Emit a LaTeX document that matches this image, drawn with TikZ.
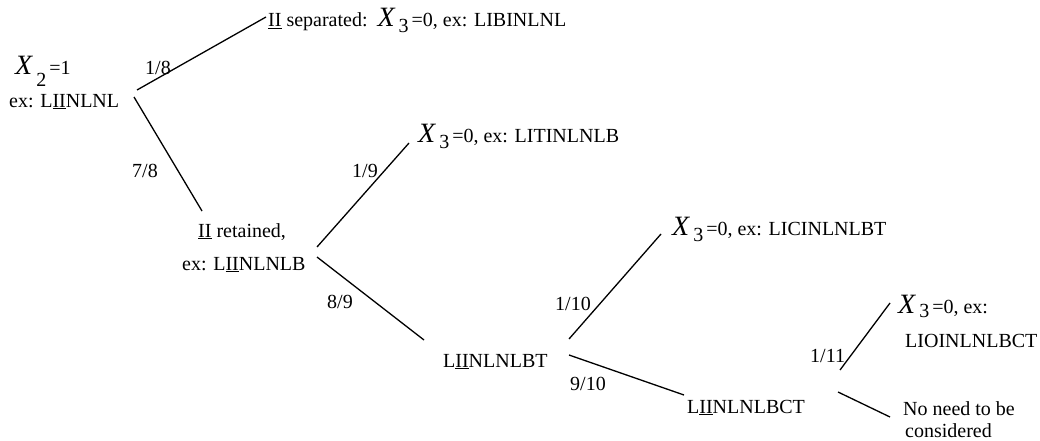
\documentclass[tikz,border=0pt]{standalone}
\usepackage{fontspec}
\setmainfont{Liberation Serif}
\newcommand{\xvar}[2]{{\fontsize{28}{28}\selectfont\itshape X}\hspace{4pt}\raisebox{-#2}{#1}\hspace{3pt}}

\begin{document}
\begin{tikzpicture}[x=1pt,y=-1pt,font=\fontsize{20}{24}\selectfont,
    every node/.style={anchor=base west, inner sep=0pt},
    every edge/.style={draw, line width=1.3pt}]
    \useasboundingbox (0,0) rectangle (1040,441);
    % texts
    \node (1) at (15,75) {\xvar{2}{12pt}=1};
    \node (2) at (9,107) {ex: L\underline{II}NLNL};
    \node (3) at (268,27) {\underline{II} separated:\hspace{10pt}\xvar{3}{6pt}=0, ex: LIBINLNL};
    \node (4) at (198,237) {\underline{II} retained,};
    \node (5) at (182,270) {ex: L\underline{II}NLNLB};
    \node (6) at (418,142) {\xvar{3}{6pt}=0, ex: LITINLNLB};
    \node (7) at (443,367) {L\underline{II}NLNLBT};
    \node (8) at (672,235) {\xvar{3}{6pt}=0, ex: LICINLNLBT};
    \node (9) at (687,413) {L\underline{II}NLNLBCT};
    \node (10) at (898,313) {\xvar{3}{4pt}=0, ex:};
    \node (11) at (905,347) {LIOINLNLBCT};
    \node (12) at (903,415) {No need to be};
    \node (13) at (905,437) {considered};
    % probabilities
    \node at (145,75) {1/8};
    \node at (132,177) {7/8};
    \node at (352,177) {1/9};
    \node at (327,308) {8/9};
    \node at (555,310) {1/10};
    \node at (570,390) {9/10};
    \node at (810,362) {1/11};
    % branch ends
    \coordinate (a1) at (137,90);  \coordinate (a2) at (266,17);
    \coordinate (b1) at (134,97);  \coordinate (b2) at (202,211);
    \coordinate (c1) at (317,247); \coordinate (c2) at (409,143);
    \coordinate (d1) at (317,257); \coordinate (d2) at (424,340);
    \coordinate (e1) at (569,339); \coordinate (e2) at (661,234);
    \coordinate (f1) at (569,355); \coordinate (f2) at (684,395);
    \coordinate (g1) at (840,370); \coordinate (g2) at (890,303);
    \coordinate (h1) at (838,392); \coordinate (h2) at (890,417);
    \path (a1) edge (a2);
    \path (b1) edge (b2);
    \path (c1) edge (c2);
    \path (d1) edge (d2);
    \path (e1) edge (e2);
    \path (f1) edge (f2);
    \path (g1) edge (g2);
    \path (h1) edge (h2);
\end{tikzpicture}
\end{document}
